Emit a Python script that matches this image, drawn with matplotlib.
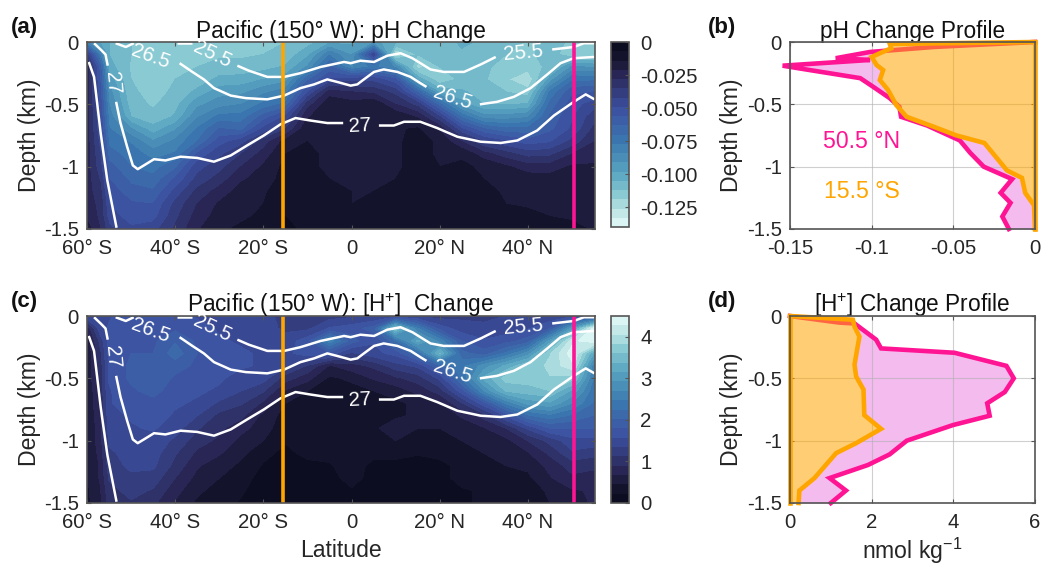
import numpy as np
import matplotlib
matplotlib.use("agg")
import matplotlib.pyplot as plt
from matplotlib.colors import LinearSegmentedColormap

plt.rcParams['font.family'] = ['Liberation Sans', 'DejaVu Sans']
plt.rcParams['mathtext.fontset'] = 'custom'
plt.rcParams['mathtext.rm'] = 'Liberation Sans'
plt.rcParams['mathtext.default'] = 'regular'
plt.rcParams['axes.unicode_minus'] = False

lats = [-60, -57, -55, -50, -45, -40, -35, -30, -25, -20, -15, -10, -5, 0, 5, 10, 15, 20, 25, 30, 35, 40, 45, 50, 55.1]
depths = [0, -0.1, -0.2, -0.3, -0.4, -0.5, -0.6, -0.7, -0.8, -0.9, -1.0, -1.1, -1.2, -1.3, -1.4, -1.5]

# pH change in units of -0.001, one row per latitude, top to bottom in depth
ph_field = [
    [85, 40, 25, 25, 25, 25, 25, 25, 25, 25, 25, 25, 25, 25, 22, 18],
    [100, 80, 60, 57, 55, 52, 50, 48, 45, 42, 40, 36, 33, 30, 30, 28],
    [105, 105, 102, 94, 88, 84, 80, 76, 72, 67, 60, 56, 52, 49, 46, 40],
    [112, 112, 113, 112, 111, 109, 105, 90, 78, 73, 70, 65, 60, 55, 52, 48],
    [114, 114, 115, 115, 114, 113, 110, 102, 90, 80, 73, 68, 62, 56, 52, 45],
    [114, 114, 114, 112, 111, 108, 104, 92, 82, 76, 65, 55, 47, 40, 37, 34],
    [113, 113, 112, 110, 103, 93, 85, 76, 70, 55, 45, 40, 33, 28, 25, 22],
    [113, 113, 110, 103, 94, 87, 75, 62, 52, 44, 38, 32, 25, 20, 18, 15],
    [113, 113, 110, 102, 93, 84, 74, 65, 45, 35, 28, 22, 18, 16, 15, 13],
    [113, 112, 108, 98, 86, 75, 60, 47, 32, 25, 20, 18, 15, 14, 13, 12],
    [112, 110, 104, 94, 80, 68, 48, 35, 18, 14, 12, 11, 10, 8, 7, 6],
    [108, 100, 90, 65, 50, 32, 22, 15, 14, 13, 13, 12, 12, 11, 10, 8],
    [100, 78, 62, 48, 25, 15, 15, 15, 15, 15, 15, 14, 13, 12, 11, 10],
    [100, 92, 85, 45, 28, 18, 15, 15, 15, 15, 15, 15, 14, 14, 13, 12],
    [95, 45, 75, 45, 30, 15, 15, 15, 15, 15, 15, 14, 14, 13, 13, 12],
    [105, 128, 85, 55, 38, 28, 15, 15, 15, 15, 15, 14, 12, 12, 12, 12],
    [108, 112, 122, 100, 65, 38, 22, 13, 12, 12, 12, 12, 10, 10, 11, 11],
    [108, 110, 112, 118, 100, 68, 42, 22, 15, 15, 14, 13, 10, 10, 10, 10],
    [104, 106, 108, 110, 104, 95, 72, 48, 28, 15, 13, 12, 12, 12, 10, 10],
    [106, 108, 110, 111, 108, 105, 88, 62, 42, 25, 15, 14, 12, 12, 10, 10],
    [106, 112, 116, 118, 112, 106, 88, 68, 48, 32, 20, 16, 15, 14, 12, 10],
    [114, 114, 116, 126, 116, 104, 85, 68, 53, 38, 25, 17, 15, 15, 12, 12],
    [108, 108, 110, 95, 76, 68, 62, 58, 50, 37, 25, 18, 15, 15, 14, 12],
    [114, 118, 90, 72, 58, 52, 50, 48, 40, 28, 20, 15, 15, 15, 15, 12],
    [114, 118, 92, 72, 56, 46, 38, 33, 28, 24, 20, 18, 16, 15, 15, 15],
]

# [H+] change in nmol/kg, one row per latitude
h_field = [
    [1.5, .7, .5, .5, .5, .5, .45, .45, .45, .45, .45, .45, .45, .45, .4, .4],
    [1.5, 1.5, 1.2, 1.05, 1.0, 1.0, .95, .9, .85, .8, .8, .75, .7, .7, .65, .6],
    [1.55, 1.6, 1.65, 1.65, 1.6, 1.6, 1.55, 1.55, 1.5, 1.45, 1.4, 1.3, 1.25, 1.15, 1.05, 1.0],
    [1.7, 1.7, 1.75, 1.8, 1.85, 1.85, 1.75, 1.7, 1.6, 1.55, 1.5, 1.45, 1.4, 1.3, 1.2, 1.1],
    [1.65, 1.7, 1.75, 1.8, 1.95, 2.0, 1.9, 1.7, 1.65, 1.6, 1.5, 1.45, 1.4, 1.25, 1.1, .95],
    [1.65, 1.75, 2.0, 2.15, 1.9, 1.75, 1.65, 1.6, 1.55, 1.45, 1.3, 1.15, 1.05, .9, .75, .65],
    [1.55, 1.65, 1.75, 1.8, 1.75, 1.7, 1.6, 1.55, 1.35, 1.15, 1.0, .85, .7, .6, .5, .4],
    [1.5, 1.55, 1.6, 1.7, 1.65, 1.6, 1.55, 1.3, 1.05, .95, .85, .7, .55, .45, .35, .3],
    [1.45, 1.5, 1.55, 1.6, 1.6, 1.5, 1.35, 1.15, .95, .75, .6, .5, .4, .3, .25, .2],
    [1.4, 1.45, 1.5, 1.55, 1.55, 1.45, 1.15, .85, .6, .55, .45, .3, .2, .15, .12, .1],
    [1.3, 1.3, 1.45, 1.5, 1.4, 1.0, .65, .45, .35, .3, .25, .15, .1, .08, .08, .08],
    [1.25, 1.3, 1.7, 1.7, 1.1, .75, .45, .3, .3, .3, .35, .3, .15, .12, .12, .12],
    [1.25, 1.6, 2.6, 1.7, .65, .4, .3, .3, .3, .3, .4, .3, .2, .15, .15, .15],
    [1.3, 1.7, 1.9, 1.3, .8, .5, .35, .35, .35, .35, .4, .35, .35, .3, .2, .15],
    [1.35, 1.9, 1.6, 1.5, .95, .7, .45, .3, .3, .4, .35, .3, .15, .15, .15, .15],
    [1.4, 3.6, 2.2, 1.65, 1.25, .85, .55, .4, .4, .6, .45, .3, .15, .12, .15, .15],
    [1.3, 2.5, 3.2, 2.2, 1.4, 1.0, .75, .5, .5, .45, .35, .25, .1, .1, .12, .12],
    [1.25, 1.7, 2.6, 3.4, 2.0, 1.4, 1.0, .65, .5, .45, .4, .3, .15, .15, .15, .12],
    [1.3, 1.45, 1.8, 2.1, 2.4, 2.3, 1.7, 1.1, .7, .55, .45, .4, .3, .3, .2, .2],
    [1.3, 1.4, 1.6, 1.9, 2.8, 3.2, 2.7, 1.7, 1.0, .65, .5, .45, .4, .35, .25, .25],
    [1.35, 1.45, 1.7, 2.3, 3.2, 3.7, 3.4, 2.5, 1.6, .9, .6, .5, .45, .4, .3, .25],
    [1.4, 1.55, 1.9, 2.8, 3.6, 3.7, 3.5, 3.0, 2.2, 1.4, .9, .65, .5, .4, .3, .3],
    [1.4, 1.8, 3.0, 3.8, 3.9, 3.8, 3.6, 3.1, 2.4, 1.8, 1.2, .95, .75, .65, .5, .45],
    [1.5, 3.0, 4.2, 4.4, 4.2, 3.7, 3.1, 2.7, 2.2, 1.8, 1.5, 1.3, 1.0, .85, .65, .6],
    [1.6, 4.45, 4.45, 3.1, 2.5, 2.4, 2.3, 2.2, 2.0, 1.8, 1.5, 1.2, .95, .8, .7, .7],
]

# density contours, (lat, depth) pieces with gaps for the labels
iso_lines = [
    [[-39.7, -36.1], [-0.01, -0.01]],
    [[-25.9, -23.3, -19.1, -15.3, -11.6, -7.0, -1.7, -0.2, 2.0, 5.1, 8.1, 11.1, 13.8, 17.9, 20.9, 25.5, 29.3, 32.7],
     [-0.19, -0.23, -0.28, -0.28, -0.25, -0.20, -0.16, -0.17, -0.15, -0.16, -0.11, -0.09, -0.13, -0.22, -0.24, -0.24, -0.18, -0.12]],
    [[45.5, 50.4, 52.7, 55.1], [-0.06, -0.04, -0.01, -0.01]],
    [[-53.5, -51.2, -49.4], [-0.01, -0.04, -0.01]],
    [[-39, -36.1, -33.5, -31.2, -27.4, -24, -19.1, -15.3, -11.6, -8.5, -5.5, -3.3, -0.2, 1.3, 2.8, 5.1, 7.3, 10.4, 13.4, 15.6, 17],
     [-0.17, -0.24, -0.30, -0.37, -0.43, -0.45, -0.46, -0.43, -0.37, -0.34, -0.30, -0.32, -0.35, -0.34, -0.30, -0.24, -0.22, -0.24, -0.28, -0.33, -0.36]],
    [[29.1, 33, 36.8, 40.6, 44.4, 47.4, 50.4, 55.1], [-0.50, -0.48, -0.44, -0.37, -0.26, -0.17, -0.13, -0.12]],
    [[-58.4, -56.9, -55.8, -55.3], [-0.01, -0.06, -0.10, -0.19]],
    [[-53.4, -52.4, -50.9, -49.6, -48.5, -47.1, -44.8, -42.2, -38.8, -35, -31.2, -27.4, -23.7, -19.9, -16.1, -12.7, -9.3, -5.5, -1.9],
     [-0.48, -0.65, -0.84, -0.99, -1.02, -0.99, -0.94, -0.95, -0.92, -0.93, -0.96, -0.91, -0.83, -0.75, -0.66, -0.61, -0.63, -0.65, -0.65]],
    [[6.2, 9.6, 11.9, 15.6, 19.4, 24, 29.3, 33.8, 37.6, 42.1, 45.9, 50.4, 53.1, 55.1],
     [-0.67, -0.67, -0.64, -0.64, -0.69, -0.76, -0.80, -0.81, -0.79, -0.71, -0.59, -0.48, -0.42, -0.46]],
    [[-59.6, -58.4, -56.9, -55.4, -53.3], [-0.16, -0.28, -0.73, -1.11, -1.49]],
]
iso_labels = ["26.5", "25.5", "27", "27", "26.5", "25.5"]
iso_label_lat = [-45.6, -31.6, -54.3, 1.8, 22.8, 39]
iso_label_depth = [-0.12, -0.10, -0.33, -0.67, -0.45, -0.09]
iso_label_rot = [-20, -25, -85, 3, -18, 5]

ph_s_x = [0, -0.0889, -0.088, -0.095, -0.100, -0.097, -0.093, -0.095, -0.090, -0.085, -0.0786, -0.062, -0.048, -0.031, -0.0172, -0.008, -0.006, -0.0006, 0]
ph_s_z = [0, -0.016, -0.05, -0.09, -0.12, -0.185, -0.225, -0.305, -0.385, -0.505, -0.60, -0.68, -0.75, -0.81, -1.03, -1.09, -1.21, -1.31, -1.5]
ph_n_x = [0, -0.0622, -0.101, -0.122, -0.101, -0.1545, -0.138, -0.107, -0.099, -0.089, -0.083, -0.082, -0.066, -0.046, -0.0396, -0.0314, -0.014, -0.021, -0.015, -0.020, -0.016]
ph_n_z = [0, -0.04, -0.08, -0.13, -0.144, -0.19, -0.225, -0.29, -0.36, -0.45, -0.52, -0.60, -0.67, -0.79, -0.89, -1.0, -1.10, -1.21, -1.29, -1.40, -1.5]

h_s_x = [0, 1.54, 1.58, 1.70, 1.58, 1.62, 1.80, 1.82, 2.23, 1.62, 1.13, 0.60, 0.23, 0.21]
h_s_z = [0, -0.03, -0.085, -0.165, -0.39, -0.485, -0.59, -0.795, -0.905, -1.02, -1.10, -1.30, -1.40, -1.5]
h_n_x = [0, 1.21, 1.58, 2.11, 2.23, 4.03, 5.30, 5.48, 5.26, 4.83, 4.89, 3.99, 2.86, 2.44, 1.91, 0.97, 1.37, 1.0]
h_n_z = [0, -0.053, -0.06, -0.19, -0.26, -0.295, -0.40, -0.50, -0.61, -0.70, -0.80, -0.875, -1.0, -1.11, -1.195, -1.30, -1.40, -1.5]

W, H = 1043, 565
ORANGE = "#ffa500"
PINK = "#ff1493"
SPINE = "#555555"
TXT = "#262626"
FS = 14.7
FS_TITLE = 16.3
FS_LABEL = 16.6

cm_dark = LinearSegmentedColormap.from_list("oc", [
    (0.0, "#0a0a1c"), (0.09, "#15152f"), (0.18, "#2b2858"), (0.36, "#3c50a0"),
    (0.54, "#3a78b0"), (0.71, "#5aa5c0"), (0.82, "#85c8d2"), (0.90, "#b8e2e2"), (1.0, "#e6fbfb")])


def px_axes(x0, y0, x1, y1):
    return fig.add_axes([x0 / W, 1 - y1 / H, (x1 - x0) / W, (y1 - y0) / H])


def style(ax):
    for s in ax.spines.values():
        s.set_color(SPINE)
        s.set_linewidth(1.2)
    ax.tick_params(direction="in", top=True, right=True, length=3, width=0.8, color=SPINE,
                   labelsize=FS, labelcolor=TXT)
    ax.tick_params(axis="x", pad=7)
    ax.tick_params(axis="y", pad=6)


def section(ax, cax, field, levels, cmap, cbticks, cblabels, title):
    cs = ax.contourf(lats, depths, np.array(field).T, levels=levels, cmap=cmap)
    ax.set_xlim(-60, 55.1)
    ax.set_ylim(-1.5, 0)
    for seg in iso_lines:
        ax.plot(seg[0], seg[1], color="white", lw=1.8, solid_capstyle="butt", solid_joinstyle="round")
    for t, la, de, r in zip(iso_labels, iso_label_lat, iso_label_depth, iso_label_rot):
        ax.text(la, de, t, color="white", fontsize=FS, rotation=r, ha="center", va="center")
    ax.axvline(-15.5, color=ORANGE, lw=2.6)
    ax.axvline(50.5, color=PINK, lw=2.6)
    ax.set_xticks([-60, -40, -20, 0, 20, 40])
    ax.set_xticklabels(["60° S", "40° S", "20° S", "0", "20° N", "40° N"])
    ax.set_yticks([0, -0.5, -1, -1.5])
    ax.set_yticklabels(["0", "-0.5", "-1", "-1.5"])
    style(ax)
    ax.set_title(title, fontsize=FS_TITLE, color="#111111", pad=3)
    ax.set_ylabel("Depth (km)", fontsize=FS_LABEL, color=TXT)
    ax.yaxis.set_label_coords(-0.09, 0.5)
    cb = fig.colorbar(cs, cax=cax)
    cb.set_ticks(cbticks)
    cb.set_ticklabels(cblabels)
    cb.ax.tick_params(direction="in", length=3, width=0.8, color=SPINE, labelsize=FS, labelcolor=TXT, pad=8)
    cb.outline.set_edgecolor(SPINE)
    cb.outline.set_linewidth(1.2)


def profile(ax, sx, sz, nx, nz, title):
    ax.fill_betweenx(nz, nx, 0, color="#f4bbef", lw=0)
    ax.fill_betweenx(sz, sx, 0, color="white", lw=0)
    ax.plot(nx, nz, color=PINK, lw=3.3, zorder=3, clip_on=False, solid_joinstyle="miter")
    ax.fill_betweenx(sz, sx, 0, color=ORANGE, alpha=0.55, lw=0, zorder=3.1)
    ax.plot(sx, sz, color=ORANGE, lw=3.3, zorder=3.2, clip_on=False, solid_joinstyle="miter")
    ax.axvline(0, color=ORANGE, lw=3.3, zorder=3.2, clip_on=False)
    ax.set_ylim(-1.5, 0)
    ax.set_yticks([0, -0.5, -1, -1.5])
    ax.set_yticklabels(["0", "-0.5", "-1", "-1.5"])
    ax.set_axisbelow(False)
    ax.grid(True, color="#b0b0b0", lw=0.8, alpha=0.6)
    style(ax)
    ax.set_title(title, fontsize=FS_TITLE, color="#111111", pad=3)
    ax.set_ylabel("Depth (km)", fontsize=FS_LABEL, color=TXT)
    ax.yaxis.set_label_coords(-0.19, 0.5)
    for s in ax.spines.values():
        s.set_zorder(4)


fig = plt.figure(figsize=(W / 100, H / 100), dpi=100)

ax_a = px_axes(87, 42, 594.5, 229)
cax_a = px_axes(611, 42, 629, 227)
section(ax_a, cax_a, np.array(ph_field) / -1000, np.linspace(-0.14, 0, 21), cm_dark.reversed(),
        [0, -0.025, -0.05, -0.075, -0.1, -0.125], ["0", "-0.025", "-0.050", "-0.075", "-0.100", "-0.125"],
        "Pacific (150° W): pH Change")

ax_c = px_axes(87, 316, 594.5, 503)
cax_c = px_axes(611, 316, 629, 503)
section(ax_c, cax_c, h_field, np.linspace(0, 4.5, 21), cm_dark,
        [0, 1, 2, 3, 4], ["0", "1", "2", "3", "4"], "Pacific (150° W): [H$^{+}$]  Change")
ax_c.set_xlabel("Latitude", fontsize=FS_LABEL, color=TXT, labelpad=5)

ax_b = px_axes(790, 42, 1035, 229)
profile(ax_b, ph_s_x, ph_s_z, ph_n_x, ph_n_z, "pH Change Profile")
ax_b.set_xlim(-0.15, 0)
ax_b.set_xticks([-0.15, -0.1, -0.05, 0])
ax_b.set_xticklabels(["-0.15", "-0.1", "-0.05", "0"])
ax_b.text(-0.1059, -0.80, "50.5 °N", color=PINK, fontsize=FS_LABEL, ha="center", va="center")
ax_b.text(-0.1059, -1.2, "15.5 °S", color=ORANGE, fontsize=FS_LABEL, ha="center", va="center")

ax_d = px_axes(790, 316, 1035, 503)
profile(ax_d, h_s_x, h_s_z, h_n_x, h_n_z, "[H$^{+}$] Change Profile")
ax_d.set_xlim(0, 6)
ax_d.set_xticks([0, 2, 4, 6])
ax_d.set_xticklabels(["0", "2", "4", "6"])
ax_d.set_xlabel("nmol kg$^{-1}$", fontsize=FS_LABEL, color=TXT, labelpad=3)

for t, x, y in [("(a)", 11, 27), ("(b)", 708, 27), ("(c)", 11, 302), ("(d)", 708, 302)]:
    fig.text(x / W, 1 - y / H, t, fontsize=16, fontweight="bold", color="#111111", ha="left", va="center")

fig.savefig("out.png", dpi=100)
